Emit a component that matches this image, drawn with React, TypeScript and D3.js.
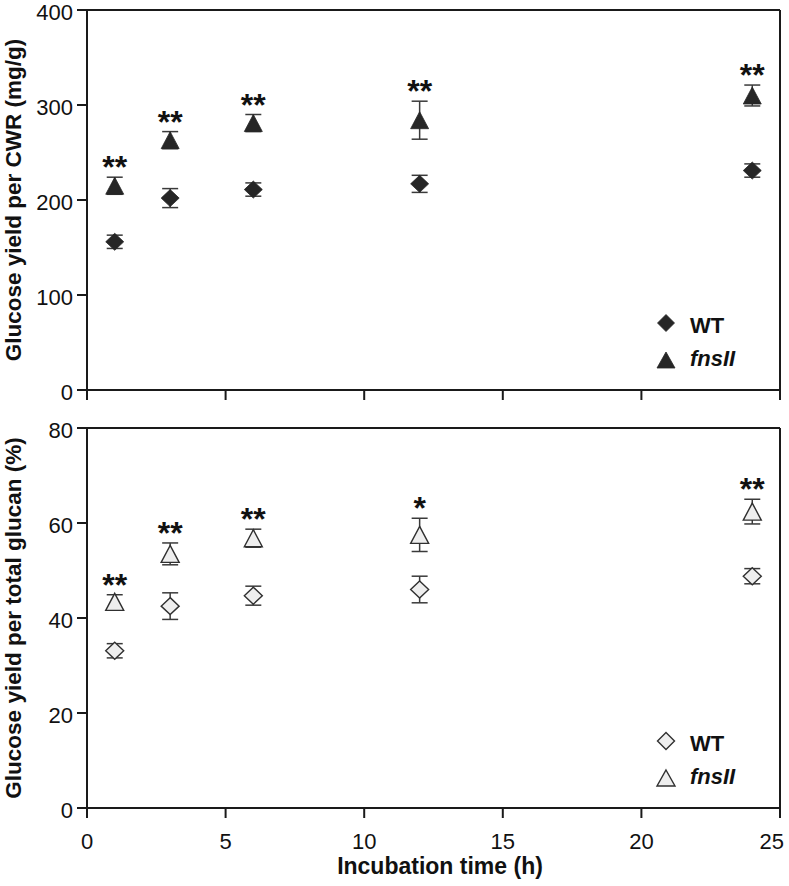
import React from "react";
import * as d3 from "d3";

// ---- data ----
const times = [1, 3, 6, 12, 24];

const cwrWT = [156, 202, 211, 217, 231];
const cwrWTErr = [7, 10, 7, 9, 7];
const cwrFns = [215, 263, 281, 284, 310];
const cwrFnsErr = [9, 9, 9, 20, 11];
const cwrSig = ["**", "**", "**", "**", "**"];

const glcWT = [33.1, 42.5, 44.7, 46.0, 48.8];
const glcWTErr = [1.5, 2.8, 2.0, 2.8, 1.6];
const glcFns = [43.4, 53.5, 56.8, 57.5, 62.4];
const glcFnsErr = [1.5, 2.3, 1.9, 3.5, 2.6];
const glcSig = ["**", "**", "**", "*", "**"];

const xTicks = [0, 5, 10, 15, 20, 25];
const topYTicks = [0, 100, 200, 300, 400];
const botYTicks = [0, 20, 40, 60, 80];

const legendLabels = ["WT", "fnsII"];

const FONT = "'Liberation Sans', Arial, Helvetica, sans-serif";
const AXIS = "#1a1a1a";
const ERR = "#3a3a3a";
const FILL = "#262626";
const OPEN_FILL = "#eeeeee";

const diamondPath = (w: number, h: number) =>
  `M0,${-h / 2}L${w / 2},0L0,${h / 2}L${-w / 2},0Z`;
const trianglePath = (w: number, h: number) =>
  `M0,${-h / 2}L${w / 2},${h / 2}L${-w / 2},${h / 2}Z`;

type PanelProps = {
  yTop: number;
  yBottom: number;
  yMax: number;
  yTicks: number[];
  wt: number[];
  wtErr: number[];
  fns: number[];
  fnsErr: number[];
  sig: string[];
  filled: boolean;
  yLabel: string;
  showXLabels: boolean;
  legendY: number;
};

const X0 = 87;
const X1 = 780;
const x = d3.scaleLinear().domain([0, 25]).range([X0, X1]);

function Panel(p: PanelProps) {
  const y = d3.scaleLinear().domain([0, p.yMax]).range([p.yBottom, p.yTop]);
  const fill = p.filled ? FILL : OPEN_FILL;
  const stroke = p.filled ? FILL : "#303030";
  const sw = p.filled ? 0.8 : 1.4;
  const capW = 16;

  const errBars = (vals: number[], errs: number[], key: string) =>
    vals.map((v, i) => {
      const cx = x(times[i]);
      const y1 = y(v + errs[i]);
      const y2 = y(v - errs[i]);
      return (
        <g key={key + i} stroke={ERR} strokeWidth={1.5}>
          <line x1={cx} x2={cx} y1={y1} y2={y2} />
          <line x1={cx - capW / 2} x2={cx + capW / 2} y1={y1} y2={y1} />
          <line x1={cx - capW / 2} x2={cx + capW / 2} y1={y2} y2={y2} />
        </g>
      );
    });

  const midY = (p.yTop + p.yBottom) / 2;
  const lastTick = xTicks[xTicks.length - 1];

  return (
    <g>
      {/* frame */}
      <g stroke={AXIS} strokeWidth={2} fill="none">
        <line x1={X0} x2={X1} y1={p.yBottom} y2={p.yBottom} />
        <line x1={X0} x2={X0} y1={p.yTop} y2={p.yBottom} />
        <line x1={X0} x2={X1} y1={p.yTop} y2={p.yTop} />
        <line x1={X1} x2={X1} y1={p.yTop} y2={p.yBottom} />
      </g>
      {/* y ticks */}
      {p.yTicks.map((t) => (
        <g key={"yt" + t}>
          <line x1={X0 - 10} x2={X0} y1={y(t)} y2={y(t)} stroke={AXIS} strokeWidth={2} />
          <text
            x={X0 - 14}
            y={y(t)}
            dy="0.44em"
            textAnchor="end"
            fontFamily={FONT}
            fontSize={22}
            fill="#111"
          >
            {t}
          </text>
        </g>
      ))}
      {/* x ticks */}
      {xTicks.map((t) => (
        <g key={"xt" + t}>
          <line x1={x(t)} x2={x(t)} y1={p.yBottom} y2={p.yBottom + 10} stroke={AXIS} strokeWidth={2} />
          {p.showXLabels && (
            <text
              x={t === lastTick ? x(t) + 4 : x(t)}
              y={p.yBottom + 41}
              textAnchor={t === lastTick ? "end" : "middle"}
              fontFamily={FONT}
              fontSize={22}
              fill="#111"
            >
              {t}
            </text>
          )}
        </g>
      ))}
      {/* y label */}
      <text
        transform={`translate(21,${midY}) rotate(-90)`}
        textAnchor="middle"
        fontFamily={FONT}
        fontWeight="bold"
        fontSize={22.5}
        fill="#111"
      >
        {p.yLabel}
      </text>
      {/* error bars */}
      {errBars(p.wt, p.wtErr, "we")}
      {errBars(p.fns, p.fnsErr, "fe")}
      {/* markers */}
      {p.wt.map((v, i) => (
        <path
          key={"wm" + i}
          d={diamondPath(18, 17)}
          transform={`translate(${x(times[i])},${y(v)})`}
          fill={fill}
          stroke={stroke}
          strokeWidth={sw}
        />
      ))}
      {p.fns.map((v, i) => (
        <path
          key={"fm" + i}
          d={trianglePath(18, 17)}
          transform={`translate(${x(times[i])},${y(v)})`}
          fill={fill}
          stroke={stroke}
          strokeWidth={sw}
        />
      ))}
      {/* significance */}
      {p.sig.map((s, i) => (
        <text
          key={"sg" + i}
          x={x(times[i])}
          y={y(p.fns[i] + p.fnsErr[i]) + 1}
          textAnchor="middle"
          fontFamily={FONT}
          fontWeight="bold"
          fontSize={32}
          fill="#111"
        >
          {s}
        </text>
      ))}
      {/* legend */}
      <path
        d={diamondPath(17, 17)}
        transform={`translate(666,${p.legendY})`}
        fill={fill}
        stroke={stroke}
        strokeWidth={sw}
      />
      <text x={690} y={p.legendY + 10} fontFamily={FONT} fontWeight="bold" fontSize={22} fill="#111">
        {legendLabels[0]}
      </text>
      <path
        d={trianglePath(18, 16)}
        transform={`translate(666,${p.legendY + 37})`}
        fill={fill}
        stroke={stroke}
        strokeWidth={sw}
      />
      <text
        x={690}
        y={p.legendY + 43}
        fontFamily={FONT}
        fontWeight="bold"
        fontStyle="italic"
        fontSize={22}
        fill="#111"
      >
        {legendLabels[1]}
      </text>
    </g>
  );
}

export default function App() {
  return (
    <svg
      width={789}
      height={886}
      style={{ position: "absolute", left: 0, top: 0, background: "#fff" }}
    >
      <rect width={789} height={886} fill="#fff" />
      <Panel
        yTop={10}
        yBottom={390}
        yMax={400}
        yTicks={topYTicks}
        wt={cwrWT}
        wtErr={cwrWTErr}
        fns={cwrFns}
        fnsErr={cwrFnsErr}
        sig={cwrSig}
        filled={true}
        yLabel="Glucose yield per CWR (mg/g)"
        showXLabels={false}
        legendY={323}
      />
      <Panel
        yTop={428}
        yBottom={808}
        yMax={80}
        yTicks={botYTicks}
        wt={glcWT}
        wtErr={glcWTErr}
        fns={glcFns}
        fnsErr={glcFnsErr}
        sig={glcSig}
        filled={false}
        yLabel="Glucose yield per total glucan (%)"
        showXLabels={true}
        legendY={741}
      />
      <text
        x={440}
        y={874}
        textAnchor="middle"
        fontFamily={FONT}
        fontWeight="bold"
        fontSize={23}
        fill="#111"
      >
        Incubation time (h)
      </text>
    </svg>
  );
}
